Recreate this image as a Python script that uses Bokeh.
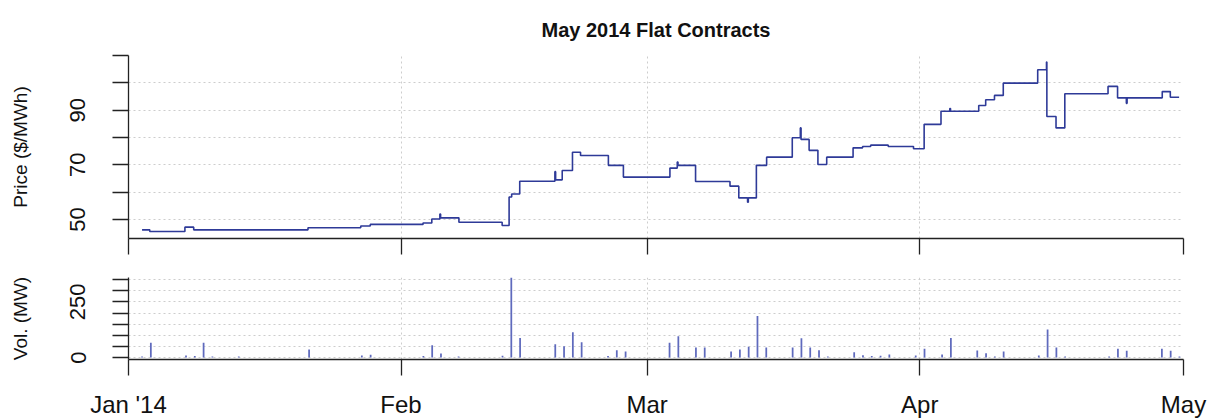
import pandas as pd
from bokeh.plotting import figure
from bokeh.layouts import column
from bokeh.models import Range1d, FixedTicker, ColumnDataSource
from bokeh.embed import file_html
from bokeh.resources import INLINE

# ---------------- data ----------------
title_text = "May 2014 Flat Contracts"

price_times = [
    "2014-01-02 13:00", "2014-01-03 10:00", "2014-01-07 10:00", "2014-01-08 10:00",
    "2014-01-21 10:00", "2014-01-27 10:00", "2014-01-28 12:00", "2014-02-03 12:00",
    "2014-02-04 12:00", "2014-02-05 10:00", "2014-02-05 12:00", "2014-02-07 14:00",
    "2014-02-12 12:00", "2014-02-13 07:00", "2014-02-13 14:00", "2014-02-14 12:00",
    "2014-02-18 12:00", "2014-02-18 14:00", "2014-02-19 08:00", "2014-02-20 12:00",
    "2014-02-21 10:00", "2014-02-24 14:00", "2014-02-26 07:00", "2014-03-03 14:00",
    "2014-03-04 10:00", "2014-03-04 12:00", "2014-03-06 12:00", "2014-03-10 10:00",
    "2014-03-11 10:00", "2014-03-12 10:00", "2014-03-12 12:00", "2014-03-13 10:00",
    "2014-03-14 14:00", "2014-03-17 12:00", "2014-03-18 10:00", "2014-03-18 12:00",
    "2014-03-19 10:00", "2014-03-20 10:00", "2014-03-21 10:00", "2014-03-24 10:00",
    "2014-03-25 12:00", "2014-03-26 10:00", "2014-03-28 10:00", "2014-03-31 07:00",
    "2014-04-01 12:00", "2014-04-03 10:00", "2014-04-04 10:00", "2014-04-04 12:00",
    "2014-04-07 17:00", "2014-04-08 12:00", "2014-04-09 12:00", "2014-04-10 12:00",
    "2014-04-14 10:00", "2014-04-15 10:00", "2014-04-15 11:00", "2014-04-16 12:00",
    "2014-04-17 12:00", "2014-04-22 10:00", "2014-04-23 12:00", "2014-04-24 12:00",
    "2014-04-24 14:00", "2014-04-28 14:00", "2014-04-29 12:00", "2014-04-30 12:00",
]
price_values = [
    46.2, 45.6, 47.2, 46.2,
    47.0, 47.6, 48.2, 48.7,
    50.2, 52.0, 50.6, 49.0,
    47.8, 58.2, 59.3, 64.0,
    67.5, 64.5, 67.9, 74.6,
    73.4, 69.8, 65.5, 68.8,
    71.0, 69.8, 63.9, 62.2,
    57.9, 56.3, 57.9, 69.8,
    72.8, 79.9, 83.5, 79.3,
    75.3, 70.1, 72.8, 76.2,
    76.7, 77.2, 76.7, 75.9,
    84.8, 89.6, 90.6, 89.6,
    91.7, 93.8, 95.4, 99.9,
    104.8, 107.6, 87.7, 83.5,
    96.0, 98.7, 94.5, 92.5,
    94.5, 96.8, 94.7, 94.7,
]

vol_dates = [
    "2014-01-02", "2014-01-03", "2014-01-07", "2014-01-08", "2014-01-09", "2014-01-10",
    "2014-01-13", "2014-01-21", "2014-01-27", "2014-01-28",
    "2014-02-03", "2014-02-04", "2014-02-05", "2014-02-07", "2014-02-12", "2014-02-13",
    "2014-02-14", "2014-02-18", "2014-02-19", "2014-02-20", "2014-02-21", "2014-02-24",
    "2014-02-25", "2014-02-26",
    "2014-03-03", "2014-03-04", "2014-03-06", "2014-03-07", "2014-03-10", "2014-03-11",
    "2014-03-12", "2014-03-13", "2014-03-14", "2014-03-17", "2014-03-18", "2014-03-19",
    "2014-03-20", "2014-03-21", "2014-03-24", "2014-03-25", "2014-03-26", "2014-03-27",
    "2014-03-28", "2014-03-31",
    "2014-04-01", "2014-04-03", "2014-04-04", "2014-04-07", "2014-04-08", "2014-04-09",
    "2014-04-10", "2014-04-14", "2014-04-15", "2014-04-16", "2014-04-17", "2014-04-22",
    "2014-04-23", "2014-04-24", "2014-04-28", "2014-04-29", "2014-04-30",
]
vol_values = [
    5, 66, 9, 7, 66, 5,
    5, 36, 9, 12,
    7, 55, 18, 5, 8, 360,
    88, 60, 51, 114, 69, 7,
    33, 27,
    66, 96, 45, 45, 27, 36,
    48, 187, 45, 45, 87, 45,
    33, 5, 24, 10, 7, 8,
    13, 9,
    39, 13, 88, 31, 19, 5,
    27, 9, 126, 45, 5, 5,
    39, 30, 39, 30, 5,
]

month_ticks = ["2014-01-01", "2014-02-01", "2014-03-01", "2014-04-01", "2014-05-01"]
month_labels = ["Jan '14", "Feb", "Mar", "Apr", "May"]
price_labeled_ticks = [50, 70, 90]
price_other_ticks = [60, 80, 100, 110]
vol_labeled_ticks = [0, 250]
vol_other_ticks = [50, 100, 150, 200, 300, 350]

# ---------------- helpers ----------------
def ms(s):
    return pd.Timestamp(s).value / 1e6

FONT = "Liberation Sans"
LINE_COL = "#2e3a98"
BAR_COL = "#5f6abd"
AXIS_COL = "#222222"
GRID_COL = "#cdcdcd"

month_ms = [ms(m) for m in month_ticks]
x_range = Range1d(month_ms[0], month_ms[-1])

W = 1211
FRAME_LEFT = 128
FRAME_RIGHT = W - 1183

p1 = figure(width=W, height=265, x_axis_type="datetime", x_range=x_range,
            y_range=Range1d(43.04, 110.0), output_backend="svg", toolbar_location=None,
            min_border_left=FRAME_LEFT, min_border_right=FRAME_RIGHT,
            min_border_top=55, min_border_bottom=27, title=title_text)
p1.title.text_font = FONT
p1.title.text_font_size = "20px"
p1.title.text_font_style = "bold"
p1.title.text_color = "#111111"
p1.title.align = "center"
p1.title.standoff = 30

p2 = figure(width=W, height=155, x_axis_type="datetime", x_range=x_range,
            y_range=Range1d(-9.0, 360.0), output_backend="svg", toolbar_location=None,
            min_border_left=FRAME_LEFT, min_border_right=FRAME_RIGHT,
            min_border_top=12, min_border_bottom=61)


def style_grid(grid):
    for g in grid:
        g.grid_line_color = GRID_COL
        g.grid_line_dash = "2 3"
        g.grid_line_width = 1
        g.minor_grid_line_color = GRID_COL
        g.minor_grid_line_dash = "2 3"
        g.minor_grid_line_width = 1


def style(p, ymajor, yminor, ylabel, show_x_labels):
    p.outline_line_color = None
    p.background_fill_color = "white"
    p.border_fill_color = "white"
    xa = p.below[0]
    ya = p.left[0]
    if show_x_labels:
        xa.ticker = FixedTicker(ticks=month_ms)
        xa.major_label_overrides = {m: l for m, l in zip(month_ms, month_labels)}
    else:
        xa.ticker = FixedTicker(ticks=[], minor_ticks=month_ms)
    ya.ticker = FixedTicker(ticks=ymajor, minor_ticks=yminor)
    ya.major_label_orientation = "vertical"
    for a in (xa, ya):
        a.axis_line_color = AXIS_COL
        a.axis_line_width = 1.3
        a.major_tick_line_color = AXIS_COL
        a.major_tick_line_width = 1.3
        a.major_tick_out = 16
        a.major_tick_in = 0
        a.minor_tick_line_color = AXIS_COL
        a.minor_tick_line_width = 1.3
        a.minor_tick_out = 16
        a.minor_tick_in = 0
        a.major_label_text_font = FONT
        a.major_label_text_color = "#111111"
    ya.major_label_text_font_size = "22px"
    ya.major_label_standoff = 27
    ya.axis_label = ylabel
    ya.axis_label_text_font = FONT
    ya.axis_label_text_font_size = "19px"
    ya.axis_label_text_font_style = "normal"
    ya.axis_label_text_color = "#111111"
    ya.axis_label_standoff = 37
    xa.major_label_text_font_size = "24px"
    xa.major_label_standoff = 15
    style_grid([p.xgrid[0], p.ygrid[0]])


style(p1, price_labeled_ticks, price_other_ticks, "Price ($/MWh)", False)
style(p2, vol_labeled_ticks, vol_other_ticks, "Vol. (MW)", True)

price_src = ColumnDataSource(dict(t=[ms(t) for t in price_times], price=price_values))
p1.step("t", "price", source=price_src, mode="after", line_color=LINE_COL, line_width=1.6)

bar_offset = 13 * 3600 * 1000
vol_src = ColumnDataSource(dict(t=[ms(d) + bar_offset for d in vol_dates], vol=vol_values))
p2.vbar(x="t", top="vol", bottom=0, width=0.2 * 86400 * 1000, source=vol_src,
        fill_color=BAR_COL, line_color=None)

layout = column(p1, p2, spacing=0)
open("out.html", "w").write(file_html(layout, INLINE))
